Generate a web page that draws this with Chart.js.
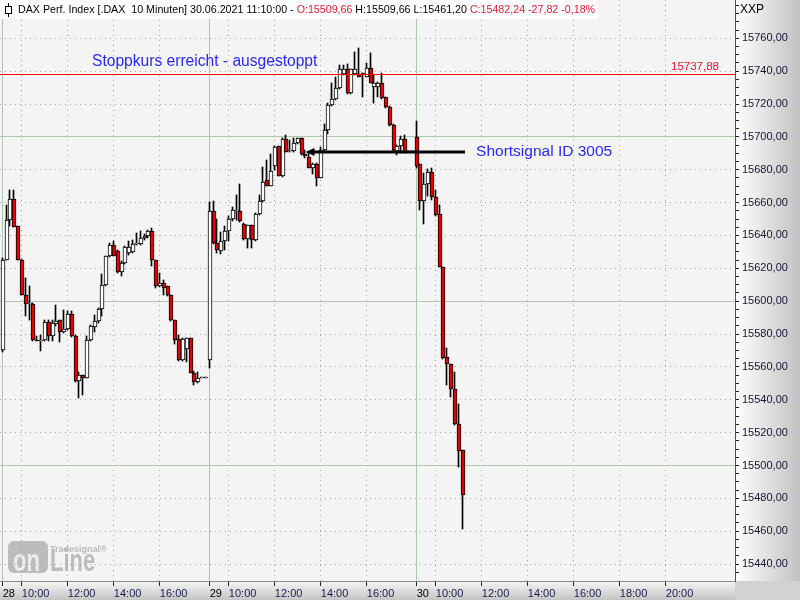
<!DOCTYPE html>
<html>
<head>
<meta charset="utf-8">
<script src="https://cdn.jsdelivr.net/npm/chart.js@4.4.1/dist/chart.umd.min.js"></script>
<style>
  html, body { margin: 0; padding: 0; background: #fff; overflow: hidden; }
  canvas { display: block; }
</style>
</head>
<body>
<canvas id="chart" width="800" height="600"></canvas>
<script>
// 10-minute candles, 28.06. 09:10 .. 30.06. 11:10 (one entry per bar slot)
const opens = [
  15570.1, 15625.2, 15649.5, 15662.1, 15645.5, 15625.2, 15603.8, 15598.3, 15598.5, 15576.5,
  15576.0, 15576.6, 15587.3, 15578.6, 15586.1, 15588.3, 15581.0, 15583.3, 15592.2, 15579.0,
  15551.2, 15555.1, 15553.1, 15576.2, 15584.3, 15588.0, 15595.4, 15609.6, 15627.2, 15634.3,
  15630.7, 15617.5, 15623.2, 15629.3, 15629.9, 15634.5, 15635.0, 15638.4, 15639.6, 15642.9,
  15625.2, 15609.0, 15611.1, 15609.0, 15603.8, 15588.3, 15577.0, 15564.0, 15570.9, 15577.6,
  15556.4, 15550.9, 15553.3, 15553.3,
  15564.4, 15654.6, 15635.4, 15630.7, 15636.4, 15642.9, 15650.2, 15655.0, 15655.0, 15647.1,
  15638.0, 15646.1, 15637.0, 15653.0, 15660.7, 15673.9, 15670.2, 15682.4, 15694.5, 15675.9,
  15698.6, 15691.1, 15691.1, 15696.2, 15699.2, 15689.7, 15688.0, 15681.0, 15683.4, 15674.9,
  15692.1, 15704.3, 15719.5, 15722.9, 15729.6, 15738.1, 15741.2, 15726.6, 15738.1, 15738.1,
  15738.3, 15736.7, 15741.8, 15730.6, 15730.6, 15733.0, 15724.1, 15718.4, 15707.3, 15691.1,
  15694.5, 15699.0, 15690.7, 15690.7,
  15699.8, 15683.4, 15660.7, 15671.4, 15678.9, 15663.7, 15653.0, 15620.8, 15566.1, 15561.8,
  15546.6, 15525.3, 15509.66
];
const highs = [
  15626.0, 15658.7, 15667.8, 15667.4, 15646.0, 15625.4, 15614.1, 15609.0, 15599.0, 15578.6,
  15579.6, 15588.8, 15588.5, 15588.8, 15597.9, 15588.8, 15594.8, 15593.8, 15593.8, 15579.2,
  15556.7, 15555.1, 15578.6, 15585.7, 15591.8, 15595.8, 15616.5, 15627.7, 15635.4, 15636.4,
  15630.9, 15624.2, 15633.3, 15636.4, 15637.4, 15641.5, 15643.0, 15641.0, 15643.5, 15644.5,
  15625.2, 15617.1, 15613.0, 15609.4, 15604.0, 15588.8, 15579.4, 15577.6, 15577.8, 15577.6,
  15557.3, 15556.7, 15553.3, 15553.3,
  15660.5, 15661.1, 15650.0, 15642.4, 15645.5, 15651.6, 15657.6, 15664.7, 15671.2, 15647.7,
  15646.5, 15646.5, 15653.6, 15664.7, 15681.9, 15686.0, 15689.7, 15694.5, 15694.7, 15699.2,
  15701.2, 15698.2, 15699.2, 15699.6, 15699.6, 15692.1, 15690.9, 15684.0, 15684.0, 15693.7,
  15707.9, 15720.5, 15732.6, 15736.7, 15743.8, 15743.8, 15744.4, 15741.4, 15751.9, 15753.9,
  15738.7, 15744.8, 15750.9, 15737.7, 15733.6, 15738.7, 15724.5, 15718.8, 15707.9, 15695.0,
  15700.8, 15701.2, 15690.7, 15690.7,
  15709.7, 15683.6, 15677.9, 15680.4, 15681.0, 15667.8, 15658.7, 15621.0, 15571.5, 15562.0,
  15557.0, 15537.7, 15509.66
];
const lows = [
  15569.0, 15625.0, 15645.9, 15645.0, 15625.0, 15603.5, 15590.8, 15588.8, 15575.6, 15575.6,
  15569.5, 15576.0, 15576.0, 15575.6, 15584.7, 15575.0, 15580.6, 15582.7, 15578.5, 15551.0,
  15541.2, 15542.6, 15553.0, 15575.6, 15581.5, 15586.7, 15590.8, 15609.0, 15626.9, 15627.2,
  15617.2, 15615.5, 15622.8, 15628.4, 15629.3, 15634.3, 15634.3, 15637.4, 15638.4, 15621.2,
  15608.0, 15608.7, 15604.0, 15603.3, 15587.7, 15574.2, 15563.4, 15563.4, 15562.8, 15556.0,
  15549.1, 15550.3, 15553.3, 15553.3,
  15559.6, 15634.5, 15629.3, 15628.7, 15631.3, 15636.4, 15648.5, 15649.5, 15648.3, 15637.4,
  15632.3, 15632.3, 15636.4, 15652.6, 15660.5, 15669.8, 15669.8, 15679.9, 15675.9, 15675.5,
  15690.5, 15690.5, 15690.7, 15695.7, 15689.1, 15687.2, 15681.0, 15677.5, 15670.4, 15674.7,
  15691.5, 15701.8, 15718.8, 15722.5, 15729.0, 15737.7, 15726.1, 15726.1, 15737.7, 15736.3,
  15724.5, 15736.3, 15732.6, 15720.5, 15724.5, 15722.9, 15717.4, 15706.7, 15691.7, 15689.1,
  15690.1, 15690.1, 15690.7, 15690.7,
  15681.3, 15655.6, 15647.1, 15664.1, 15661.7, 15651.6, 15620.6, 15564.9, 15549.2, 15541.5,
  15524.9, 15499.0, 15461.2
];
const closes = [
  15625.2, 15649.5, 15662.1, 15645.1, 15625.2, 15603.8, 15598.3, 15598.6, 15576.2, 15576.0,
  15576.2, 15587.3, 15578.6, 15586.7, 15588.1, 15581.0, 15583.3, 15592.4, 15579.0, 15551.2,
  15555.3, 15553.1, 15576.2, 15584.7, 15588.0, 15595.4, 15609.6, 15627.2, 15634.3, 15627.8,
  15617.5, 15623.2, 15632.9, 15632.9, 15635.0, 15634.8, 15638.4, 15639.8, 15642.9, 15624.8,
  15609.0, 15611.1, 15608.0, 15603.8, 15588.3, 15576.6, 15564.4, 15577.0, 15577.6, 15556.4,
  15550.9, 15553.3, 15553.3, 15553.3,
  15654.6, 15635.4, 15631.3, 15636.4, 15642.9, 15650.2, 15655.2, 15655.4, 15648.5, 15638.0,
  15646.1, 15637.0, 15653.0, 15661.1, 15672.8, 15670.2, 15679.5, 15693.7, 15676.0, 15698.6,
  15690.7, 15691.5, 15696.2, 15699.2, 15689.7, 15688.5, 15681.2, 15683.4, 15674.9, 15692.1,
  15704.3, 15719.5, 15722.9, 15729.6, 15741.2, 15741.2, 15726.6, 15741.2, 15741.2, 15736.7,
  15738.1, 15741.8, 15733.0, 15733.0, 15733.0, 15723.5, 15718.4, 15707.3, 15692.1, 15694.5,
  15699.0, 15690.7, 15690.7, 15690.7,
  15682.4, 15660.7, 15671.4, 15678.9, 15663.7, 15652.2, 15620.8, 15565.5, 15561.8, 15546.6,
  15525.3, 15508.7, 15482.24
];

// time axis (bar slots)
const xTickSlots  = [0, 5, 17, 29, 41, 54, 59, 71, 83, 95, 108, 113, 125, 137, 149, 161, 173];
const xTickLabels = ["28", "10:00", "12:00", "14:00", "16:00", "29", "10:00", "12:00", "14:00", "16:00",
                     "30", "10:00", "12:00", "14:00", "16:00", "18:00", "20:00"];
const daySlots = [0, 54, 108];
const xMin = -0.7, xMax = 191.05;

// price axis
const yLabels = [15440, 15460, 15480, 15500, 15520, 15540, 15560, 15580, 15600,
                 15620, 15640, 15660, 15680, 15700, 15720, 15740, 15760];
const yMin = 15429.7, yMax = 15783.3;

// annotations
const stopLevel = 15737.88;
const stopText = "Stoppkurs erreicht - ausgestoppt";
const stopTextAt = { slot: 23.3, level: 15745.5 };
const signalLevel = 15691;
const signalFrom = 79, signalTo = 120.6;
const signalText = "Shortsignal ID 3005";
const signalTextSlot = 123.5;
const change = "-27,82 -0,18%";

const RED = '#e60000';
const TEXT_RED = '#f0142d';
const BLUE = '#2828ff';
const fmt = v => v.toFixed(2).replace('.', ',');
const last = opens.length - 1;
const font = '"Liberation Sans", Arial, sans-serif';

const background = {
  id: 'background',
  beforeDraw(chart) {
    const { ctx, chartArea: ca, width, height } = chart;
    ctx.save();
    ctx.fillStyle = '#f4f4f4';
    ctx.fillRect(ca.left, ca.top, ca.right - ca.left, ca.bottom - ca.top);
    let g = ctx.createLinearGradient(ca.right, 0, width, 0);
    g.addColorStop(0, '#ffffff');
    g.addColorStop(1, '#c2c2c2');
    ctx.fillStyle = g;
    ctx.fillRect(ca.right, 0, width - ca.right, height);
    g = ctx.createLinearGradient(0, ca.bottom, 0, height);
    g.addColorStop(0, '#f6f6f6');
    g.addColorStop(1, '#c4c4c4');
    ctx.fillStyle = g;
    ctx.fillRect(0, ca.bottom, ca.right, height - ca.bottom);
    ctx.fillStyle = '#d2d2d2';
    ctx.fillRect(ca.right, ca.bottom, width - ca.right, height - ca.bottom);

    // watermark logo
    ctx.fillStyle = '#bcbcbc';
    ctx.beginPath();
    ctx.roundRect(8, 541, 40, 32, 6);
    ctx.fill();
    ctx.font = 'bold 9px ' + font;
    ctx.fillStyle = '#bababa';
    ctx.textBaseline = 'alphabetic';
    ctx.fillText('Tradesignal\u00AE', 50, 552);
    ctx.save();
    ctx.scale(1, 1.45);
    ctx.font = 'bold 22px ' + font;
    ctx.fillStyle = '#ececec';
    ctx.fillText('on', 13, 571 / 1.45);
    ctx.fillStyle = '#bcbcbc';
    ctx.fillText('Line', 50, 571 / 1.45);
    ctx.restore();
    ctx.restore();
  }
};

// keep candles on whole pixels so outlines stay crisp
const pixelSnap = {
  id: 'pixelSnap',
  beforeDatasetsDraw(chart) {
    chart.getDatasetMeta(0).data.forEach(el => {
      el.x = Math.round(el.x);
      el.y = Math.round(el.y);
      el.base = Math.round(el.base);
    });
    chart.getDatasetMeta(1).data.forEach(el => {
      el.x = Math.round(el.x) - 0.5;
      el.y = Math.round(el.y);
      el.base = Math.round(el.base);
    });
  }
};

const annotations = {
  id: 'annotations',
  afterDatasetsDraw(chart) {
    const { ctx, chartArea: ca, scales: { x, y } } = chart;
    ctx.save();
    ctx.setLineDash([]);
    // stop level
    const ys = Math.floor(y.getPixelForValue(stopLevel)) + 0.5;
    ctx.strokeStyle = '#ff0000';
    ctx.lineWidth = 1;
    ctx.beginPath();
    ctx.moveTo(ca.left, ys);
    ctx.lineTo(ca.right, ys);
    ctx.stroke();
    ctx.font = '11.5px ' + font;
    ctx.fillStyle = TEXT_RED;
    ctx.textAlign = 'right';
    ctx.textBaseline = 'bottom';
    ctx.fillText(fmt(stopLevel), ca.right - 16, ys - 1.5);

    ctx.font = '15.6px ' + font;
    ctx.fillStyle = BLUE;
    ctx.textAlign = 'left';
    ctx.textBaseline = 'middle';
    ctx.fillText(stopText, x.getPixelForValue(stopTextAt.slot), y.getPixelForValue(stopTextAt.level));

    // short signal
    const x0 = x.getPixelForValue(signalFrom);
    const x1 = x.getPixelForValue(signalTo);
    const yy = Math.round(y.getPixelForValue(signalLevel));
    ctx.strokeStyle = '#000';
    ctx.lineWidth = 3;
    ctx.beginPath();
    ctx.moveTo(x0 + 4, yy);
    ctx.lineTo(x1, yy);
    ctx.stroke();
    ctx.fillStyle = '#000';
    ctx.beginPath();
    ctx.moveTo(x0, yy);
    ctx.lineTo(x0 + 9, yy - 4);
    ctx.lineTo(x0 + 9, yy + 4);
    ctx.closePath();
    ctx.fill();
    ctx.fillStyle = '#ffffd6';
    ctx.fillRect(Math.round(x1) + 1, yy - 2, 4, 4);
    ctx.fillStyle = BLUE;
    ctx.font = '15.5px ' + font;
    ctx.fillText(signalText, x.getPixelForValue(signalTextSlot), yy);
    ctx.restore();
  },
  afterDraw(chart) {
    const { ctx, chartArea: ca } = chart;
    ctx.save();
    const parts = [
      ['DAX Perf. Index [.DAX  10 Minuten] 30.06.2021 11:10:00 - ', '#000'],
      ['O:' + fmt(opens[last]), TEXT_RED],
      [' H:' + fmt(highs[last]) + ' L:' + fmt(lows[last]) + ' ', '#000'],
      ['C:' + fmt(closes[last]) + ' ' + change, TEXT_RED]
    ];
    // fit header text to the width it has in the source chart
    const total = size => {
      ctx.font = size + 'px ' + font;
      return parts.reduce((s, p) => s + ctx.measureText(p[0]).width, 0);
    };
    const size = 12 * 578 / total(12);
    const w = total(size);
    ctx.fillStyle = '#ffffff';
    ctx.fillRect(0, 0, 18 + w + 3, 19);
    // candle icon
    ctx.strokeStyle = '#000';
    ctx.lineWidth = 1;
    ctx.beginPath();
    ctx.moveTo(8.5, 3);
    ctx.lineTo(8.5, 17);
    ctx.stroke();
    ctx.fillStyle = '#fff';
    ctx.fillRect(5.5, 6.5, 6, 7);
    ctx.strokeRect(5.5, 6.5, 6, 7);
    ctx.textBaseline = 'middle';
    ctx.textAlign = 'left';
    let xx = 18;
    parts.forEach(p => {
      ctx.fillStyle = p[1];
      ctx.fillText(p[0], xx, 10);
      xx += ctx.measureText(p[0]).width;
    });
    ctx.fillStyle = '#000';
    ctx.font = '12px ' + font;
    ctx.fillText('XXP', ca.right + 5, 10);
    ctx.restore();
  }
};

const bodyColors = opens.map((o, i) => closes[i] < o ? RED : '#ffffff');

new Chart(document.getElementById('chart'), {
  type: 'bar',
  data: {
    datasets: [
      {
        label: 'Body',
        data: opens.map((o, i) => ({ x: i, y: [o, closes[i]] })),
        backgroundColor: bodyColors,
        borderColor: '#000',
        borderWidth: 1,
        borderSkipped: false,
        barThickness: 4,
        minBarLength: 1,
        grouped: false
      },
      {
        label: 'Wick',
        data: lows.map((l, i) => ({ x: i, y: [l, highs[i]] })),
        backgroundColor: '#000',
        borderWidth: 0,
        barThickness: 1,
        minBarLength: 1,
        grouped: false
      }
    ]
  },
  options: {
    responsive: false,
    animation: false,
    layout: { padding: 0 },
    plugins: { legend: { display: false }, tooltip: { enabled: false } },
    scales: {
      x: {
        type: 'linear',
        min: xMin,
        max: xMax,
        offset: false,
        afterBuildTicks: s => { s.ticks = xTickSlots.map(v => ({ value: v })); },
        afterFit: s => { s.height = 19; s.paddingLeft = 0; s.paddingRight = 0; },
        ticks: {
          autoSkip: false,
          maxRotation: 0,
          align: 'start',
          padding: 1,
          font: { family: font, size: 11 },
          color: c => daySlots.includes(c.tick.value) ? '#000' : '#1c1c50',
          callback: v => xTickLabels[xTickSlots.indexOf(v)]
        },
        grid: {
          offset: false,
          color: c => daySlots.includes(c.tick && c.tick.value) ? '#aec6ab' : '#a6a6a6',
          lineWidth: 1,
          drawTicks: true,
          tickLength: 5,
          tickColor: '#222',
          tickBorderDash: []
        },
        border: {
          color: '#8a8a8a',
          dash: c => (c.type === 'tick' && !daySlots.includes(c.tick.value)) ? [1, 4] : []
        }
      },
      y: {
        position: 'right',
        min: yMin,
        max: yMax,
        beginAtZero: false,
        afterBuildTicks: s => {
          const t = [];
          for (let v = 15435; v <= 15780; v += 5) t.push({ value: v });
          s.ticks = t;
        },
        afterFit: s => { s.width = 65; s.paddingTop = 0; s.paddingBottom = 0; },
        ticks: {
          autoSkip: false,
          padding: 3,
          font: { family: font, size: 11 },
          color: '#141432',
          callback: v => yLabels.includes(v) ? fmt(v) : ''
        },
        grid: {
          color: c => {
            const v = c.tick && c.tick.value;
            if (v % 100 === 0) return '#aec6ab';
            if (yLabels.includes(v)) return '#a6a6a6';
            return 'rgba(0,0,0,0)';
          },
          lineWidth: 1,
          drawTicks: true,
          tickLength: 4,
          tickColor: '#222',
          tickBorderDash: []
        },
        border: {
          color: '#505050',
          dash: c => (c.type === 'tick' && c.tick.value % 100 !== 0) ? [1, 4] : []
        }
      }
    }
  },
  plugins: [background, pixelSnap, annotations]
});
</script>
</body>
</html>
